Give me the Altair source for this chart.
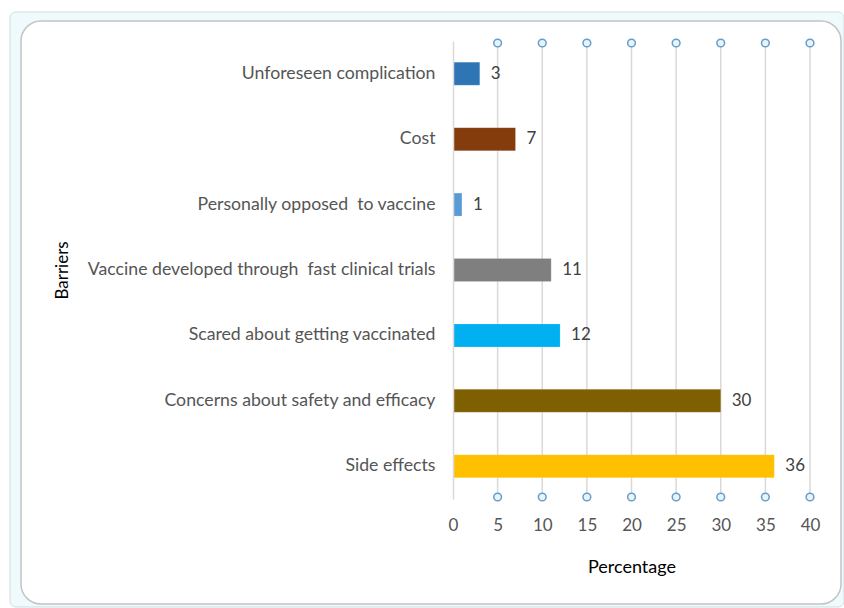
import altair as alt
import pandas as pd

barriers = [
    "Unforeseen complication",
    "Cost",
    "Personally opposed \u00a0to vaccine",
    "Vaccine developed through \u00a0fast clinical trials",
    "Scared about getting vaccinated",
    "Concerns about safety and efficacy",
    "Side effects",
]
percentages = [3, 7, 1, 11, 12, 30, 36]
colors = ["#2E75B6", "#843C0C", "#5B9BD5", "#7F7F7F", "#00B0F0", "#7F6000", "#FFC000"]
tick_values = [0, 5, 10, 15, 20, 25, 30, 35, 40]
marker_values = [5, 10, 15, 20, 25, 30, 35, 40]

df = pd.DataFrame({"Barrier": barriers, "Percentage": percentages, "Color": colors})
markers = pd.DataFrame({"v": marker_values})

FONT = "Lato"
W, H = 357, 458

x_scale = alt.Scale(domain=[0, 40], nice=False)
y_enc = alt.Y(
    "Barrier:N",
    sort=barriers,
    scale=alt.Scale(paddingInner=0.65, paddingOuter=0.325),
    axis=alt.Axis(
        title="Barriers",
        titleAngle=-90,
        titleX=-391,
        titleY=229,
        titleAlign="center",
        titleBaseline="middle",
        titleFont=FONT,
        titleFontSize=17,
        titleFontWeight="normal",
        titleColor="#000000",
        labelFont=FONT,
        labelFontSize=17.7,
        labelColor="#555555",
        labelPadding=18,
        labelLimit=420,
        ticks=False,
        domain=True,
        domainColor="#d9d9d9",
        domainWidth=1.5,
        grid=False,
        zindex=1,
    ),
)

bars = alt.Chart(df).mark_bar(size=23, stroke="white", strokeOpacity=0.3, strokeWidth=0.5).encode(
    x=alt.X(
        "Percentage:Q",
        scale=x_scale,
        axis=alt.Axis(
            values=tick_values,
            title="Percentage",
            titleFont=FONT,
            titleFontSize=18,
            titleFontWeight="normal",
            titleColor="#000000",
            titlePadding=25,
            labelFont=FONT,
            labelFontSize=17,
            labelColor="#555555",
            labelPadding=18,
            labelFlush=False,
            ticks=False,
            domain=False,
            grid=False,
            zindex=1,
        ),
    ),
    y=y_enc,
    color=alt.Color("Color:N", scale=None, legend=None),
)

grid = alt.Chart(markers).mark_rule(color="#d9d9d9", strokeWidth=1.5).encode(
    x=alt.X("v:Q", scale=x_scale),
    y=alt.value(2),
    y2=alt.value(456),
)

top_pts = alt.Chart(markers).mark_point(
    shape="circle", size=60, filled=True, fill="#e4f6fb", stroke="#6a9cc9", strokeWidth=1.5, opacity=1
).encode(x=alt.X("v:Q", scale=x_scale), y=alt.value(2))

bot_pts = alt.Chart(markers).mark_point(
    shape="circle", size=60, filled=True, fill="#e4f6fb", stroke="#6a9cc9", strokeWidth=1.5, opacity=1
).encode(x=alt.X("v:Q", scale=x_scale), y=alt.value(456))

labels = alt.Chart(df).mark_text(
    align="left", baseline="middle", dx=11, font=FONT, fontSize=17, color="#404040"
).encode(
    x=alt.X("Percentage:Q", scale=x_scale),
    y=alt.Y("Barrier:N", sort=barriers),
    text="Percentage:Q",
)

frame_df = pd.DataFrame({"k": [1]})
outer = alt.Chart(frame_df).mark_rect(
    fill="#eefafc", stroke="#d0dde0", strokeWidth=1, cornerRadius=6
).encode(x=alt.value(-443), x2=alt.value(391), y=alt.value(-29), y2=alt.value(566))
inner = alt.Chart(frame_df).mark_rect(
    fill="white", stroke="#c4c4c4", strokeWidth=1.5, cornerRadius=20
).encode(x=alt.value(-432), x2=alt.value(388), y=alt.value(-20), y2=alt.value(563))

chart = alt.layer(outer, inner, grid, bars, labels, top_pts, bot_pts).properties(
    width=W,
    height=H,
    autosize=alt.AutoSizeParams(type="none"),
    padding={"left": 453, "top": 41, "right": 34, "bottom": 109},
).configure_view(stroke=None).configure(background="white")

chart.save("out.html", embed_options={"renderer": "svg", "actions": False})
